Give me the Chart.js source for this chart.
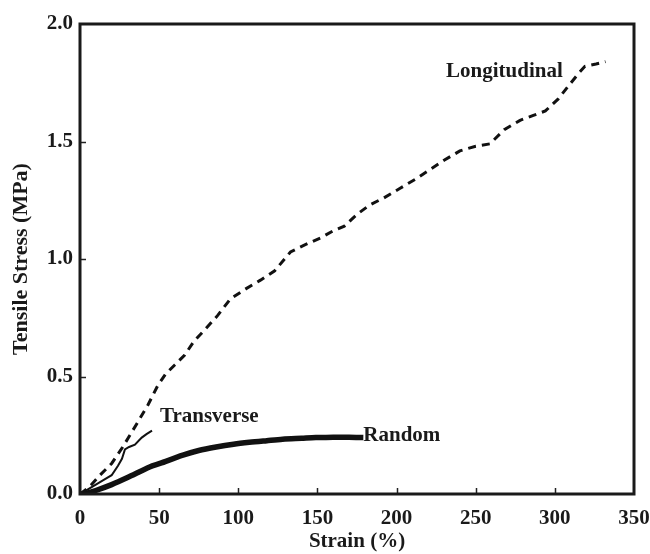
<!DOCTYPE html>
<html>
<head>
<meta charset="utf-8">
<script src="https://cdn.jsdelivr.net/npm/chart.js@4.4.0/dist/chart.umd.min.js"></script>
<style>
  html, body { margin: 0; padding: 0; background: #fff; }
  #wrap { width: 650px; height: 554px; }
</style>
</head>
<body>
<div id="wrap"><canvas id="stressChart"></canvas></div>
<script>
// Данные
const longStrain = [0, 6, 12.6, 20, 27, 36, 43, 49, 54, 60, 66, 72, 79, 87, 95, 104, 114, 123, 133, 142, 152, 160, 167, 175, 183, 192, 202, 212, 221, 230, 240, 250, 259, 268, 278, 286, 294, 302, 309, 315, 319, 326, 332];
const longStress = [0, 0.03, 0.08, 0.13, 0.20, 0.30, 0.38, 0.46, 0.51, 0.55, 0.59, 0.65, 0.70, 0.76, 0.83, 0.87, 0.91, 0.95, 1.03, 1.06, 1.09, 1.12, 1.14, 1.19, 1.23, 1.26, 1.30, 1.34, 1.38, 1.42, 1.46, 1.48, 1.49, 1.55, 1.59, 1.61, 1.63, 1.68, 1.74, 1.79, 1.82, 1.83, 1.84];

const transStrain = [0, 5, 10, 15, 20, 24, 26.5, 28.4, 31, 34.7, 39, 42, 45.5];
const transStress = [0, 0.02, 0.04, 0.06, 0.08, 0.12, 0.15, 0.19, 0.20, 0.21, 0.24, 0.255, 0.27];

const randStrain = [0, 5, 10, 20, 30, 44, 50.5, 65, 75, 86, 97, 107, 118, 128, 140, 149, 160, 170, 179];
const randStress = [0, 0.005, 0.015, 0.04, 0.07, 0.115, 0.13, 0.165, 0.185, 0.20, 0.212, 0.22, 0.227, 0.233, 0.237, 0.24, 0.242, 0.241, 0.24];

const xTicks = [0, 50, 100, 150, 200, 250, 300, 350];
const yTicks = [0, 0.5, 1.0, 1.5, 2.0];

// Подписи кривых: [текст, x, y, выравнивание]
const curveLabels = [
    ['Longitudinal', 305, 1.796, 'right'],
    ['Transverse', 50.5, 0.328, 'left'],
    ['Random', 179, 0.247, 'left']
];

const toPoints = (xs, ys) => xs.map((x, i) => ({ x: x, y: ys[i] }));

const serif = '"Liberation Serif", "Times New Roman", serif';

// Рамка, засечки внутрь и подписи
const framePlugin = {
    id: 'frame',
    afterDatasetsDraw(chart) {
        const { ctx, chartArea: a, scales } = chart;
        ctx.save();
        ctx.strokeStyle = '#222';
        ctx.lineWidth = 1.5;
        xTicks.slice(1, -1).forEach(v => {
            const px = Math.round(scales.x.getPixelForValue(v)) + 0.5;
            ctx.beginPath();
            ctx.moveTo(px, a.bottom);
            ctx.lineTo(px, a.bottom - 6);
            ctx.stroke();
        });
        yTicks.slice(1, -1).forEach(v => {
            const py = Math.round(scales.y.getPixelForValue(v)) + 0.5;
            ctx.beginPath();
            ctx.moveTo(a.left, py);
            ctx.lineTo(a.left + 6, py);
            ctx.stroke();
        });
        ctx.lineWidth = 3;
        ctx.strokeStyle = '#1a1a1a';
        ctx.strokeRect(a.left, a.top, a.right - a.left, a.bottom - a.top);

        ctx.fillStyle = '#1a1a1a';
        ctx.font = 'bold 21px ' + serif;
        ctx.textBaseline = 'middle';
        curveLabels.forEach(([text, x, y, align]) => {
            ctx.textAlign = align;
            ctx.fillText(text, scales.x.getPixelForValue(x), scales.y.getPixelForValue(y));
        });
        ctx.restore();
    }
};

document.addEventListener('DOMContentLoaded', function() {
    const ctx = document.getElementById('stressChart').getContext('2d');

    new Chart(ctx, {
        type: 'scatter',
        data: {
            datasets: [
                {
                    label: 'Longitudinal',
                    data: toPoints(longStrain, longStress),
                    showLine: true,
                    borderColor: '#111',
                    borderWidth: 3,
                    borderDash: [8, 6],
                    pointRadius: 0,
                    tension: 0
                },
                {
                    label: 'Transverse',
                    data: toPoints(transStrain, transStress),
                    showLine: true,
                    borderColor: '#111',
                    borderWidth: 2,
                    pointRadius: 0,
                    tension: 0
                },
                {
                    label: 'Random',
                    data: toPoints(randStrain, randStress),
                    showLine: true,
                    borderColor: '#111',
                    borderWidth: 5.5,
                    pointRadius: 0,
                    tension: 0.3
                }
            ]
        },
        options: {
            responsive: true,
            maintainAspectRatio: false,
            animation: false,
            layout: {
                padding: { top: 24, right: 16, left: 0, bottom: 0 }
            },
            plugins: {
                legend: { display: false },
                tooltip: { enabled: false }
            },
            scales: {
                x: {
                    type: 'linear',
                    min: 0,
                    max: 350,
                    afterBuildTicks: scale => { scale.ticks = xTicks.map(v => ({ value: v })); },
                    afterFit: scale => {
                        scale.height = 60;
                        scale.paddingLeft = 0;
                        scale.paddingRight = 0;
                    },
                    ticks: {
                        color: '#1a1a1a',
                        padding: 12,
                        font: { family: serif, size: 21, weight: 'bold' }
                    },
                    grid: { display: false, drawTicks: false },
                    border: { display: false },
                    title: {
                        display: true,
                        text: 'Strain (%)',
                        color: '#1a1a1a',
                        padding: { top: 8, bottom: 0 },
                        font: { family: serif, size: 21, weight: 'bold' }
                    }
                },
                y: {
                    type: 'linear',
                    min: 0,
                    max: 2.0,
                    afterBuildTicks: scale => { scale.ticks = yTicks.map(v => ({ value: v })); },
                    afterFit: scale => {
                        scale.width = 80;
                        scale.paddingTop = 0;
                        scale.paddingBottom = 0;
                    },
                    ticks: {
                        color: '#1a1a1a',
                        padding: 7,
                        font: { family: serif, size: 21, weight: 'bold' },
                        callback: v => v.toFixed(1)
                    },
                    grid: { display: false, drawTicks: false },
                    border: { display: false },
                    title: {
                        display: true,
                        text: 'Tensile Stress (MPa)',
                        color: '#1a1a1a',
                        padding: { top: 8, bottom: 0 },
                        font: { family: serif, size: 22, weight: 'bold' }
                    }
                }
            }
        },
        plugins: [framePlugin]
    });
});
</script>
</body>
</html>
